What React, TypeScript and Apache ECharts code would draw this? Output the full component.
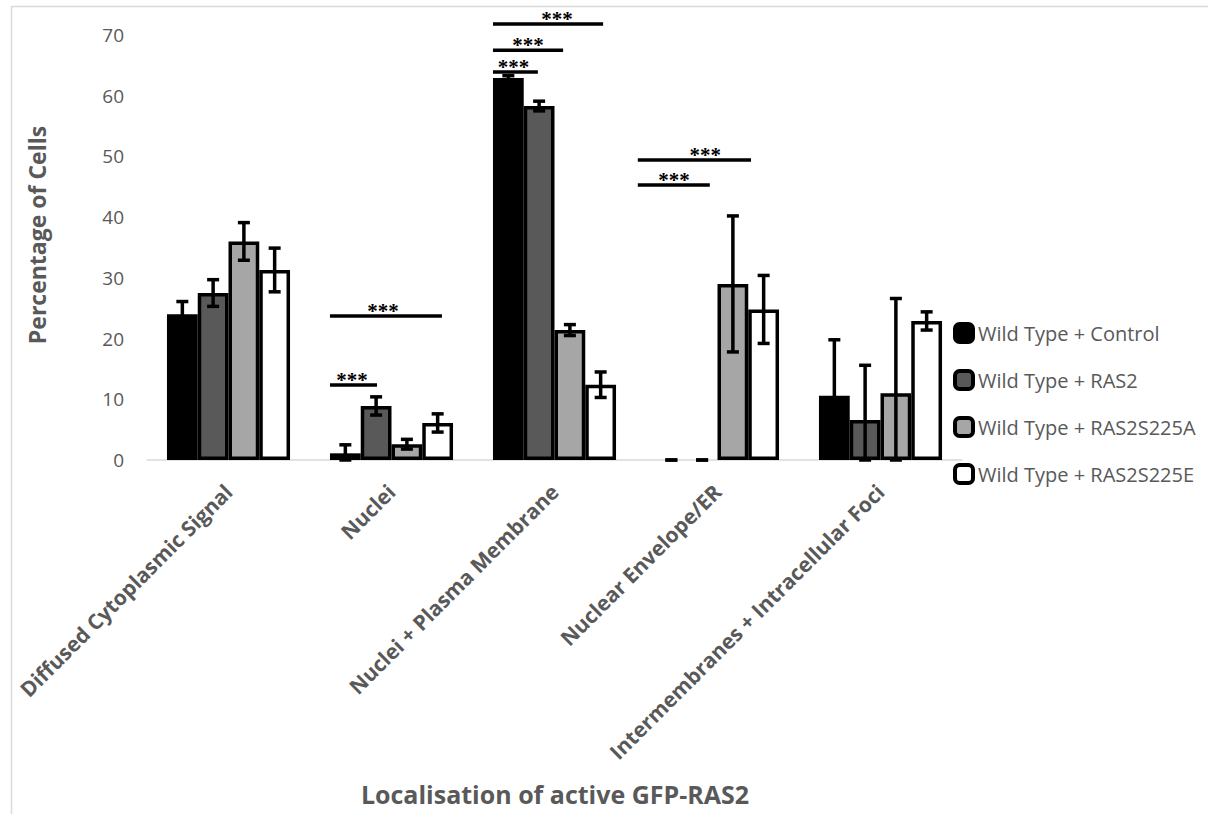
import React, { useEffect, useRef } from "react";
import * as echarts from "echarts";

const categories = [
  "Diffused Cytoplasmic Signal",
  "Nuclei",
  "Nuclei + Plasma Membrane",
  "Nuclear Envelope/ER",
  "Intermembranes + Intracellular Foci",
];

const seriesNames = [
  "Wild Type + Control",
  "Wild Type + RAS2",
  "Wild Type + RAS2S225A",
  "Wild Type + RAS2S225E",
];

const controlValues = [24.0, 1.1, 62.9, 0, 10.6];
const controlErr = [2.1, 1.4, 0.4, 0, 9.2];
const ras2Values = [27.5, 8.9, 58.3, 0, 6.6];
const ras2Err = [2.2, 1.5, 0.8, 0, 9.0];
const s225aValues = [36.0, 2.6, 21.4, 29.0, 11.0];
const s225aErr = [3.1, 0.8, 0.9, 11.2, 15.6];
const s225eValues = [31.3, 6.1, 12.4, 24.8, 22.9];
const s225eErr = [3.6, 1.5, 2.1, 5.6, 1.5];

const yTicks = [0, 10, 20, 30, 40, 50, 60, 70];

// significance brackets: category, from (bar units), to (bar units), level, text position (bar units)
const sigCategory = [1, 1, 2, 2, 2, 3, 3];
const sigFrom = [0, 0, 0, 0, 0, -0.59, -0.59];
const sigTo = [1.53, 3.64, 1.46, 2.28, 3.58, 1.75, 3.09];
const sigLevel = [12.35, 23.7, 63.9, 67.5, 71.8, 45.3, 49.4];
const sigTextPos = [0.72, 1.72, 0.67, 1.14, 2.08, 0.59, 1.6];
const sigLabel = ["***", "***", "***", "***", "***", "***", "***"];

const colors = ["#000000", "#595959", "#a6a6a6", "#ffffff"];
const GAP = 0.245;
const FONT = "'Open Sans', sans-serif";
const GREY = "#595959";

export default function App() {
  const ref = useRef<HTMLDivElement>(null);
  useEffect(() => {
    if (!ref.current) return;
    const chart = echarts.init(ref.current, undefined, { renderer: "svg" });
    const values = [controlValues, ras2Values, s225aValues, s225eValues];
    const errs = [controlErr, ras2Err, s225aErr, s225eErr];

    const barSeries = values.map((vals, si) => ({
      type: "bar",
      name: seriesNames[si],
      barGap: "0%",
      barCategoryGap: GAP * 100 + "%",
      z: 2,
      itemStyle: { color: colors[si], borderColor: "#000", borderWidth: 3.5 },
      data: vals.map((v) =>
        v === 0 ? { value: v, itemStyle: { borderWidth: 0 } } : v
      ),
    }));

    const errSeries = values.map((vals, si) => ({
      type: "custom",
      name: "err" + si,
      z: 5,
      silent: true,
      encode: { x: 0, y: 1 },
      data: vals.map((v, ci) => [ci, v, errs[si][ci]]),
      renderItem: (params: any, api: any) => {
        const ci = api.value(0);
        const v = api.value(1);
        const e = api.value(2);
        const band = api.size([1, 0])[0];
        const w = (band * (1 - GAP)) / 4;
        const c = api.coord([ci, v]);
        const x = c[0] + (si - 1.5) * w;
        const yTop = api.coord([ci, v + e])[1];
        const yBot = api.coord([ci, Math.max(0, v - e)])[1];
        const st = { stroke: "#000", lineWidth: 3.5 };
        return {
          type: "group",
          children: [
            { type: "line", shape: { x1: x, y1: yTop, x2: x, y2: yBot }, style: st },
            { type: "line", shape: { x1: x - 6, y1: yTop, x2: x + 6, y2: yTop }, style: st },
            { type: "line", shape: { x1: x - 6, y1: yBot, x2: x + 6, y2: yBot }, style: st },
          ],
        };
      },
    }));

    const sigSeries = {
      type: "custom",
      name: "sig",
      z: 6,
      silent: true,
      clip: false,
      encode: { x: 0, y: 3 },
      data: sigCategory.map((c, i) => [c, sigFrom[i], sigTo[i], sigLevel[i], sigTextPos[i]]),
      renderItem: (params: any, api: any) => {
        const ci = api.value(0);
        const band = api.size([1, 0])[0];
        const w = (band * (1 - GAP)) / 4;
        const p = api.coord([ci, api.value(3)]);
        const left = p[0] - 2 * w;
        const x1 = left + api.value(1) * w;
        const x2 = left + api.value(2) * w;
        const xt = left + api.value(4) * w;
        const y = p[1];
        return {
          type: "group",
          children: [
            { type: "line", shape: { x1, y1: y, x2, y2: y }, style: { stroke: "#000", lineWidth: 3.5 } },
            {
              type: "text",
              x: xt,
              y: y - 5,
              style: {
                text: sigLabel[params.dataIndex],
                fill: "#000",
                font: "bold 21px 'Liberation Serif', serif",
                align: "center",
                verticalAlign: "middle",
              },
            },
          ],
        };
      },
    };

    chart.setOption({
      animation: false,
      backgroundColor: "#ffffff",
      grid: { left: 147, right: 246, top: 35, bottom: 354, containLabel: false },
      legend: {
        data: seriesNames,
        orient: "vertical",
        left: 948,
        top: 317,
        itemWidth: 18,
        itemHeight: 18,
        itemGap: 25,
        icon: "roundRect",
        itemStyle: { borderColor: "#000", borderWidth: 4 },
        textStyle: { color: GREY, fontSize: 20, fontFamily: FONT },
      },
      xAxis: {
        type: "category",
        data: categories,
        axisLine: { show: true, lineStyle: { color: "#d9d9d9", width: 1.5 } },
        axisTick: { show: false },
        axisLabel: {
          interval: 0,
          rotate: 45,
          margin: 28,
          color: GREY,
          fontSize: 21,
          fontWeight: "bold",
          fontFamily: FONT,
        },
      },
      yAxis: {
        type: "value",
        min: yTicks[0],
        max: yTicks[yTicks.length - 1],
        interval: 10,
        axisLine: { show: false },
        axisTick: { show: false },
        splitLine: { show: false },
        axisLabel: { color: GREY, fontSize: 19, fontFamily: FONT, margin: 23 },
      },
      graphic: [
        {
          type: "rect",
          silent: true,
          shape: { x: 11.5, y: 6.5, width: 1400, height: 1000 },
          style: { fill: "none", stroke: "#d9d9d9", lineWidth: 1.5 },
        },
        {
          type: "text",
          x: 37,
          y: 235,
          rotation: Math.PI / 2,
          style: {
            text: "Percentage of Cells",
            fill: GREY,
            font: "bold 23px 'Open Sans', sans-serif",
            align: "center",
            verticalAlign: "middle",
          },
        },
        {
          type: "text",
          x: 555,
          y: 794,
          style: {
            text: "Localisation of active GFP-RAS2",
            fill: GREY,
            font: "bold 25px 'Open Sans', sans-serif",
            align: "center",
            verticalAlign: "middle",
          },
        },
      ],
      series: [...barSeries, ...errSeries, sigSeries],
    });
    return () => chart.dispose();
  }, []);
  return (
    <div
      ref={ref}
      style={{ position: "fixed", left: 0, top: 0, width: 1208, height: 814 }}
    />
  );
}
